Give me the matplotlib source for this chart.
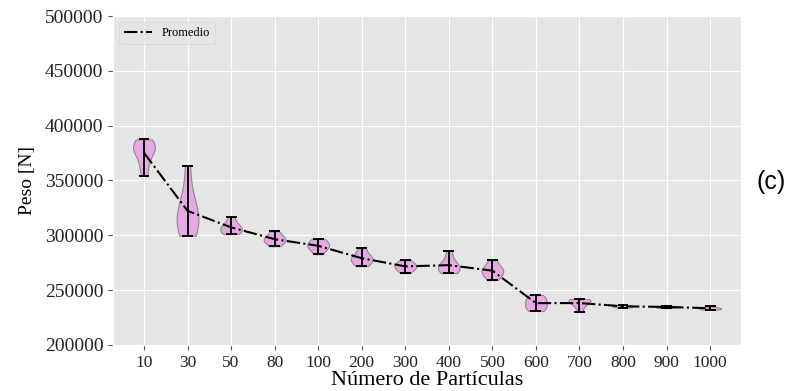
import numpy as np
import matplotlib
matplotlib.use("Agg")
import matplotlib.pyplot as plt

plt.style.use("ggplot")

# categories (number of particles)
particulas = ["10", "30", "50", "80", "100", "200", "300", "400", "500",
              "600", "700", "800", "900", "1000"]

# weight samples per run [N]
peso_10 = [354500, 366000, 376000, 379000, 381000, 383000, 387500]
peso_30 = [299500, 304000, 310000, 315000, 320000, 328000, 338000, 363500]
peso_50 = [301000, 303000, 305000, 306000, 308000, 311000, 316500]
peso_80 = [290000, 293000, 295000, 296000, 297500, 300000, 303500]
peso_100 = [282700, 287000, 289000, 290500, 292000, 295000, 296400]
peso_200 = [271800, 275000, 277000, 278500, 280000, 283000, 288200]
peso_300 = [265500, 268500, 270500, 271500, 273000, 275000, 277300]
peso_400 = [265500, 267500, 269500, 271000, 273000, 277000, 285500]
peso_500 = [259100, 263000, 266000, 267500, 269000, 272000, 277300]
peso_600 = [230900, 233000, 235500, 238000, 240500, 243000, 245500]
peso_700 = [230000, 236000, 239500, 240500, 241000, 241800]
peso_800 = [234000, 234800, 235200, 235600, 236300]
peso_900 = [233600, 234200, 234600, 235000, 235500]
peso_1000 = [232100, 232800, 233300, 233800, 235000]

datos = [peso_10, peso_30, peso_50, peso_80, peso_100, peso_200, peso_300,
         peso_400, peso_500, peso_600, peso_700, peso_800, peso_900, peso_1000]

serif = "Liberation Serif"

fig = plt.figure(figsize=(7.96, 3.91), dpi=100)
ax = fig.add_axes([0.142, 0.118, 0.789, 0.841])

pos = np.arange(1, len(datos) + 1)
vp = ax.violinplot(datos, positions=pos, widths=0.5, showextrema=True)
for body in vp["bodies"]:
    body.set_facecolor("#E8A8E6")
    body.set_edgecolor("#8a8a8a")
    body.set_linewidth(0.8)
    body.set_alpha(1)
for key in ["cbars", "cmins", "cmaxes"]:
    vp[key].set_color("black")
    vp[key].set_linewidth(1.4)

medias = [np.mean(d) for d in datos]
ax.plot(pos, medias, "k-.", linewidth=1.5, label="Promedio")

ax.set_xlim(0.29, 14.71)
ax.set_ylim(200000, 500000)
ax.set_yticks(np.arange(200000, 500001, 50000))
ax.set_xticks(pos)
ax.set_xticklabels(particulas)
for lab in ax.get_xticklabels():
    lab.set_fontfamily(serif)
    lab.set_fontsize(12.5)
    lab.set_color("#222222")
for lab in ax.get_yticklabels():
    lab.set_fontfamily(serif)
    lab.set_fontsize(14)
    lab.set_color("#222222")

ax.set_xlabel("Número de Partículas", fontfamily=serif, fontsize=16,
              color="black", labelpad=0)
ax.set_ylabel("Peso [N]", fontfamily=serif, fontsize=14, color="black",
              labelpad=6)

leg = ax.legend(loc="upper left", prop={"family": serif, "size": 9},
                handlelength=2.2)
leg.get_frame().set_facecolor("#E5E5E5")
leg.get_frame().set_edgecolor("#d0d0d0")

fig.text(0.969, 0.535, "(c)", fontfamily="Liberation Sans", fontsize=18,
         ha="center", va="center")

fig.savefig("out.png", dpi=100)
